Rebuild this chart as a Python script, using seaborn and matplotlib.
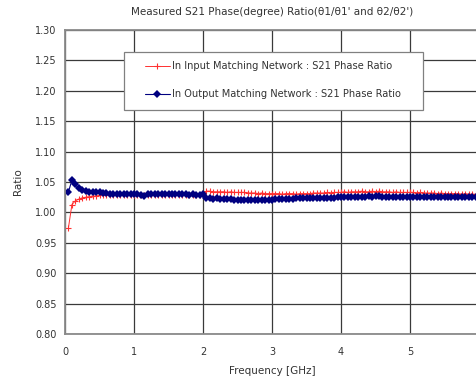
import numpy as np
import pandas as pd
import seaborn as sns
import matplotlib.pyplot as plt
from matplotlib.patches import Rectangle

# frecuencia de medida (GHz), paso de 0.05
frecuencia = np.round(np.arange(1, 121) * 0.05, 2)

# relacion de fase S21 en la red de entrada
razon_entrada = [
    0.975, 1.013, 1.019, 1.022, 1.024, 1.025, 1.026, 1.027, 1.027, 1.028,
    1.028, 1.028, 1.029, 1.028, 1.029, 1.029, 1.028, 1.029, 1.029, 1.028,
    1.028, 1.028, 1.029, 1.028, 1.028, 1.029, 1.028, 1.029, 1.029, 1.028,
    1.029, 1.028, 1.028, 1.029, 1.029, 1.028, 1.029, 1.028, 1.029, 1.029,
    1.035, 1.035, 1.034, 1.034, 1.034, 1.034, 1.033, 1.034, 1.033, 1.033,
    1.033, 1.033, 1.032, 1.032, 1.032, 1.031, 1.032, 1.031, 1.031, 1.031,
    1.031, 1.031, 1.030, 1.031, 1.031, 1.031, 1.030, 1.031, 1.031, 1.031,
    1.031, 1.032, 1.032, 1.032, 1.032, 1.033, 1.032, 1.033, 1.033, 1.033,
    1.034, 1.033, 1.034, 1.034, 1.034, 1.035, 1.034, 1.034, 1.035, 1.034,
    1.035, 1.034, 1.034, 1.034, 1.033, 1.034, 1.033, 1.033, 1.033, 1.033,
    1.033, 1.032, 1.033, 1.032, 1.032, 1.032, 1.032, 1.031, 1.032, 1.031,
    1.031, 1.031, 1.031, 1.031, 1.030, 1.031, 1.030, 1.030, 1.030, 1.030,
]

# relacion de fase S21 en la red de salida
razon_salida = [
    1.034, 1.053, 1.046, 1.040, 1.037, 1.036, 1.034, 1.034, 1.033, 1.033,
    1.032, 1.032, 1.031, 1.031, 1.031, 1.030, 1.030, 1.030, 1.030, 1.030,
    1.030, 1.029, 1.027, 1.030, 1.030, 1.030, 1.030, 1.030, 1.030, 1.030,
    1.030, 1.030, 1.030, 1.030, 1.030, 1.029, 1.030, 1.029, 1.029, 1.030,
    1.023, 1.023, 1.022, 1.023, 1.022, 1.022, 1.022, 1.022, 1.021, 1.021,
    1.021, 1.021, 1.021, 1.021, 1.020, 1.021, 1.021, 1.020, 1.021, 1.021,
    1.022, 1.022, 1.022, 1.022, 1.022, 1.022, 1.023, 1.023, 1.023, 1.023,
    1.023, 1.023, 1.024, 1.024, 1.024, 1.024, 1.024, 1.024, 1.025, 1.025,
    1.025, 1.025, 1.025, 1.026, 1.026, 1.025, 1.026, 1.027, 1.025, 1.027,
    1.027, 1.026, 1.026, 1.025, 1.025, 1.025, 1.025, 1.025, 1.025, 1.025,
    1.025, 1.025, 1.025, 1.025, 1.025, 1.025, 1.025, 1.025, 1.025, 1.025,
    1.025, 1.025, 1.025, 1.025, 1.025, 1.025, 1.025, 1.025, 1.025, 1.025,
]

etiqueta_entrada = 'In Input Matching Network : S21 Phase Ratio'
etiqueta_salida = 'In Output Matching Network : S21 Phase Ratio'

datos = pd.DataFrame({'freq': frecuencia, 'entrada': razon_entrada, 'salida': razon_salida})

sns.set_style('white')
plt.rcParams['font.family'] = ['DejaVu Sans']

fig = plt.figure(figsize=(4.77, 3.79), dpi=100)
ax = fig.add_axes([0.1363, 0.1187, 0.868, 0.802])

sns.lineplot(data=datos, x='freq', y='entrada', ax=ax, color='#ff3030', lw=0.7,
             marker='+', markersize=5, markeredgewidth=0.8, markeredgecolor='#ff3030',
             label=etiqueta_entrada)
sns.lineplot(data=datos, x='freq', y='salida', ax=ax, color='#000080', lw=0.8,
             marker='D', markersize=4, markeredgewidth=0, markerfacecolor='#000080',
             label=etiqueta_salida)

ax.set_xlim(0, 6)
ax.set_ylim(0.80, 1.30)
ax.set_xticks(range(0, 7))
ax.set_yticks(np.arange(0.80, 1.301, 0.05))
ax.set_yticklabels([f'{v:.2f}' for v in np.arange(0.80, 1.301, 0.05)])
ax.grid(True, color='#3a3a3a', lw=0.9)
ax.set_axisbelow(True)
for s in ax.spines.values():
    s.set_color('#8a8a8a')
    s.set_linewidth(1.3)
ax.tick_params(labelsize=7, colors='#333333', length=0)
ax.tick_params(axis='x', pad=9)
ax.tick_params(axis='y', pad=6)

ax.set_title("Measured S21 Phase(degree) Ratio(θ1/θ1' and θ2/θ2')", fontsize=7.5,
             color='#333333', pad=11)
ax.set_xlabel('Frequency [GHz]', fontsize=7.5, color='#333333', labelpad=7)
ax.set_ylabel('Ratio', fontsize=7.5, color='#333333', labelpad=9)

# marco de la leyenda
marco = Rectangle((0.1425, 0.7368), 0.7225, 0.192, transform=ax.transAxes,
                  facecolor='white', edgecolor='#808080', lw=0.9, zorder=4)
ax.add_patch(marco)
ley = ax.legend(loc='upper left', bbox_to_anchor=(0.193, 0.898), borderaxespad=0,
                borderpad=0, fontsize=7.1, frameon=False, labelspacing=1.85,
                handlelength=2.5, handletextpad=0.25)
ley.set_zorder(5)
for t in ley.get_texts():
    t.set_color('#333333')

# pie de figura recortado en la imagen original
fig.text(0.074, -0.046, "Ratio of the measured S21 phase  θ1/θ1' and", fontsize=16,
         family='Liberation Serif', va='baseline', ha='left')

fig.savefig('out.png', dpi=100)
